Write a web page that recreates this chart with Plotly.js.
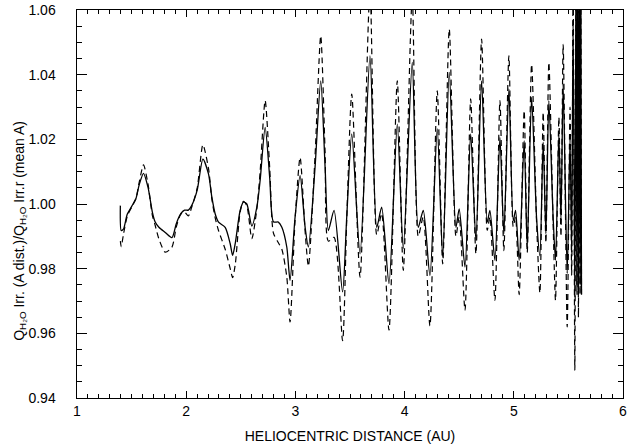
<!DOCTYPE html>
<html>
<head>
<meta charset="utf-8">
<script src="https://cdn.plot.ly/plotly-3.0.1.min.js"></script>
<style>html,body{margin:0;padding:0;background:#fff;}.chart{width:632px;height:444px;position:absolute;left:0;top:0;}</style>
</head>
<body>
<div id="host"></div>
<script>
// Heliocentric distance (AU)
const distance = [
1.397,1.405,1.425,1.46,1.50,1.54,1.57,1.609,1.65,1.69,1.715,1.75,1.808,1.869,1.91,1.95,1.985,2.02,2.05,2.10,
2.153,2.204,2.235,2.265,2.296,2.357,2.403,2.425,2.45,2.494,2.524,2.555,2.601,2.647,2.677,2.723,2.765,2.799,2.844,2.876,
2.921,2.951,2.997,3.043,3.089,3.119,3.18,3.232,3.272,3.302,3.354,3.432,3.47,3.516,3.592,3.683,3.745,3.790,3.857,3.933,
3.988,4.070,4.125,4.171,4.232,4.299,4.349,4.409,4.470,4.500,4.553,4.605,4.653,4.705,4.757,4.781,4.827,4.873,4.909,4.955,
4.995,5.016,5.049,5.095,5.123,5.163,5.209,5.239,5.269,5.294,5.321,5.360,5.382,5.413,5.432,5.452,5.489,5.515,5.530,5.543,
5.559,5.570,5.578,5.585,5.592,5.600,5.607,5.613,5.620
];
// Q_H2O Irr.(A dist.)/Q_H2O Irr.r (mean A) — solid curve
const ratioSolid = [
0.9995,0.9918,0.9922,0.9968,0.9992,1.0017,1.0060,1.0095,1.0052,0.9975,0.9945,0.9928,0.9912,0.9896,0.9940,0.9970,0.9981,0.9981,0.9995,1.0042,
1.0139,1.0093,1.0021,0.9970,0.9944,0.9928,0.9877,0.9841,0.9880,0.9980,1.0006,1.0000,0.9932,0.9990,1.0073,1.0237,1.0080,0.9945,0.9944,0.9928,
0.9867,0.9764,0.9959,1.0088,0.9928,0.9867,1.0114,1.0381,1.0114,0.9918,0.9980,0.9728,0.9959,1.0217,0.9846,1.0458,0.9928,0.9990,0.9754,1.0247,
0.9862,1.0438,0.9928,0.9980,0.9779,1.0232,0.9836,1.0407,0.9928,0.9985,0.9805,1.0217,0.9887,1.0381,0.9944,0.9980,0.9826,1.0206,0.9908,1.0356,
0.9949,0.9980,0.9826,1.0196,0.9867,1.0330,0.9954,0.9840,1.0191,0.9908,1.0319,0.9960,0.9826,1.0217,0.9950,1.0370,0.9785,1.0200,0.9850,1.0567,
0.9712,1.0750,0.9750,1.0800,0.9720,1.0800,0.9750,1.0800,0.9720
];
// dashed curve
const ratioDashed = [
0.9885,0.9868,0.9905,0.9962,0.9990,1.0017,1.0068,1.0121,1.0062,0.9965,0.9935,0.9892,0.9851,0.9866,0.9930,0.9968,0.9975,0.9963,0.9990,1.0048,
1.0183,1.0110,1.0015,0.9958,0.9918,0.9860,0.9800,0.9772,0.9815,0.9975,1.0008,0.9995,0.9893,0.9985,1.0100,1.0320,1.0110,0.9910,0.9880,0.9860,
0.9775,0.9635,0.9950,1.0144,0.9915,0.9808,1.0150,1.0520,1.0160,0.9885,0.9897,0.9577,0.9950,1.0340,0.9774,1.0660,0.9905,0.9970,0.9610,1.0381,
0.9795,1.0640,0.9900,0.9960,0.9623,1.0350,0.9815,1.0541,0.9900,0.9960,0.9671,1.0325,0.9846,1.0510,0.9918,0.9960,0.9702,1.0320,0.9856,1.0458,
0.9930,0.9960,0.9720,1.0289,0.9850,1.0432,0.9940,0.9725,1.0283,0.9880,1.0438,0.9940,0.9702,1.0268,0.9900,1.0494,0.9620,1.0300,0.9780,1.0700,
0.9486,1.0800,0.9720,1.0800,0.9650,1.0800,0.9720,1.0800,0.9720
];
const xRange = [1,6];
const yRange = [0.94,1.06];
const xTitle = 'HELIOCENTRIC DISTANCE (AU)';
const yTitleRich = 'Q<sub>H₂O</sub> Irr. (A dist.)/Q<sub>H₂O</sub> Irr.r (mean A)';
const yTitlePlain = 'Q\u2095\u2082\u2092 Irr. (A dist.)/Q\u2095\u2082\u2092 Irr.r (mean A)';

// level 0 = full styling; each higher level drops one feature in case the axes fail to finish drawing
function build(level) {
  const FONT = level >= 2 ? null : 'Liberation Sans, Arial, sans-serif';
  const fnt = (s) => FONT ? {family:FONT, size:s, color:'#000'} : {size:s, color:'#000'};
  const fancy = level < 3;
  const traces = [
    {x: distance, y: ratioDashed, type:'scatter', mode:'lines',
     line: fancy ? {color:'#000', width:1.2, dash:'6px,4px', shape:'spline', smoothing:0.7}
                 : {color:'#000', width:1.2, dash:'dash'}},
    {x: distance, y: ratioSolid, type:'scatter', mode:'lines',
     line: fancy ? {color:'#000', width:1.3, shape:'spline', smoothing:0.7}
                 : {color:'#000', width:1.3}},
    {x: [], y: [], xaxis:'x2', yaxis:'y2', type:'scatter', mode:'lines'}
  ];
  const baseX = {range:xRange, tickmode:'linear', tick0:1, dtick:1,
    ticks:'inside', ticklen:7, tickwidth:1, tickcolor:'#000',
    showline:true, linecolor:'#000', linewidth:1, showgrid:false, zeroline:false};
  const baseY = {range:yRange, tickmode:'linear', tick0:0.94, dtick:0.02, tickformat:'.2f',
    ticks:'inside', ticklen:10, tickwidth:1, tickcolor:'#000',
    showline:true, linecolor:'#000', linewidth:1, showgrid:false, zeroline:false};
  if (level < 4) {
    baseX.minor = {dtick:0.1, ticks:'inside', ticklen:4, tickwidth:1, tickcolor:'#000'};
    baseY.minor = {dtick:0.005, ticks:'inside', ticklen:5, tickwidth:1, tickcolor:'#000'};
  }
  const xaxis = Object.assign({}, baseX, {tickfont:fnt(14), title:{text:xTitle, font:fnt(14)}});
  const yaxis = Object.assign({}, baseY, {tickfont:fnt(14)});
  if (level < 4) yaxis.ticksuffix = '\u2003\u2005';
  const layout = {
    width:632, height:444,
    margin:{l:77, r:9, t:10, b:46},
    showlegend:false,
    xaxis: xaxis, yaxis: yaxis,
    xaxis2:Object.assign({}, baseX, {overlaying:'x', side:'top', anchor:'y', showticklabels:false}),
    yaxis2:Object.assign({}, baseY, {overlaying:'y', side:'right', anchor:'x', showticklabels:false}),
    annotations:[{
      xref:'paper', yref:'paper', x:-0.105, y:0.43, xanchor:'center', yanchor:'middle',
      textangle:-90, showarrow:false, text: level >= 1 ? yTitlePlain : yTitleRich, font:fnt(14)}]
  };
  return {traces, layout};
}

function ticksVisible(root) {
  const vis = (sel, test) => {
    const els = Array.from(root.querySelectorAll(sel));
    if (els.length < 5) return false;
    return els.some(el => {
      const cs = getComputedStyle(el);
      if (cs.display === 'none' || cs.visibility === 'hidden' || cs.stroke === 'none') return false;
      return test(el.getBoundingClientRect());
    });
  };
  return vis('path.xtick', r => r.height >= 3 && r.top > 350 && r.bottom <= 444) &&
         vis('path.ytick', r => r.width >= 3 && r.left >= 60 && r.left < 120) &&
         vis('path.x2tick', r => r.height >= 3 && r.top < 40) &&
         vis('path.y2tick', r => r.width >= 3 && r.right > 580);
}

const timeout = ms => new Promise(res => setTimeout(() => res('timeout'), ms));

async function render() {
  const host = document.getElementById('host');
  for (let level = 0; level <= 4; level++) {
    host.innerHTML = '';
    const gd = document.createElement('div');
    gd.className = 'chart';
    host.appendChild(gd);
    const c = build(level);
    let result;
    try {
      result = await Promise.race([
        Plotly.newPlot(gd, c.traces, c.layout, {staticPlot:true}),
        timeout(1500)
      ]);
    } catch (e) { continue; }
    if (result !== 'timeout' && ticksVisible(gd)) return;
  }
}
render();
</script>
</body>
</html>
